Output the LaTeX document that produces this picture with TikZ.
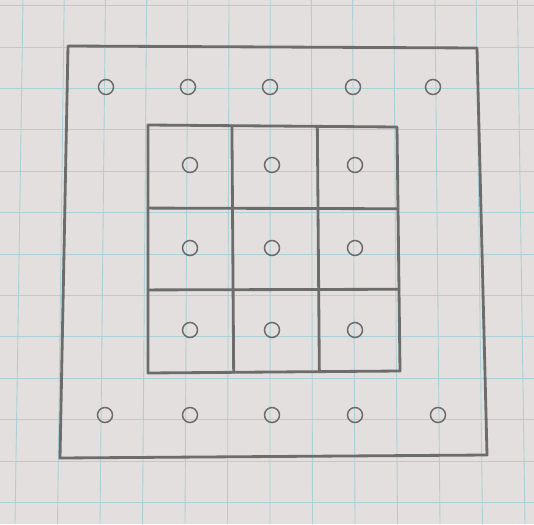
\documentclass[tikz,border=0pt]{standalone}
\usetikzlibrary{positioning,calc}
\definecolor{paperbg}{RGB}{226,223,222}
\definecolor{paperline}{RGB}{172,208,212}
\definecolor{pencil}{RGB}{108,108,108}

\begin{document}
\begin{tikzpicture}[x=0.02cm, y=-0.02cm]
    \tikzstyle{gridline} = [draw=paperline, line width=0.5pt]
    \tikzstyle{pencilline} = [draw=pencil, line width=1.6pt, line join=round, line cap=round]
    \tikzstyle{hole} = [circle, draw=pencil, line width=0.85pt, minimum size=0.3cm, inner sep=0pt]

    \fill[paperbg] (0,0) rectangle (534,524);
    \useasboundingbox (0,0) rectangle (534,524);

    % squared paper
    \foreach \k in {0,...,12}
        \draw[gridline] (23+41.2*\k,0) -- (15+42.5*\k,524);
    \foreach \k in {0,...,12}
        \draw[gridline] (0,5.6+41.4*\k) -- (534,5.6+41.4*\k);

    % outer frame
    \coordinate (otl) at (68,46);
    \coordinate (otr) at (477,48);
    \coordinate (obr) at (487,455);
    \coordinate (obl) at (60,458);
    \draw[pencilline] (otl) -- (otr) -- (obr) -- (obl) -- cycle;

    % inner 3x3 block
    \coordinate (itl) at (148,125);
    \coordinate (itr) at (397,127);
    \coordinate (ibr) at (400,371);
    \coordinate (ibl) at (148,373);
    \draw[pencilline] (itl) -- (itr) -- (ibr) -- (ibl) -- cycle;
    \draw[pencilline] ($(itl)!0.337!(itr)$) -- ($(ibl)!0.34!(ibr)$);
    \draw[pencilline] ($(itl)!0.68!(itr)$) -- ($(ibl)!0.68!(ibr)$);
    \draw[pencilline] ($(itl)!0.335!(ibl)$) -- ($(itr)!0.335!(ibr)$);
    \draw[pencilline] ($(itl)!0.665!(ibl)$) -- ($(itr)!0.665!(ibr)$);

    % holes
    \foreach \n/\x in {1/106, 2/188, 3/270, 4/353, 5/433}
        \node[hole] (top\n) at (\x,87) {};
    \foreach \n/\x in {1/105, 2/190, 3/272, 4/355, 5/438}
        \node[hole] (bot\n) at (\x,415) {};
    \foreach \r/\y in {1/165, 2/248, 3/330}
        \foreach \c/\x in {1/190, 2/272, 3/355}
            \node[hole] (cell\r\c) at (\x,\y) {};
\end{tikzpicture}
\end{document}
